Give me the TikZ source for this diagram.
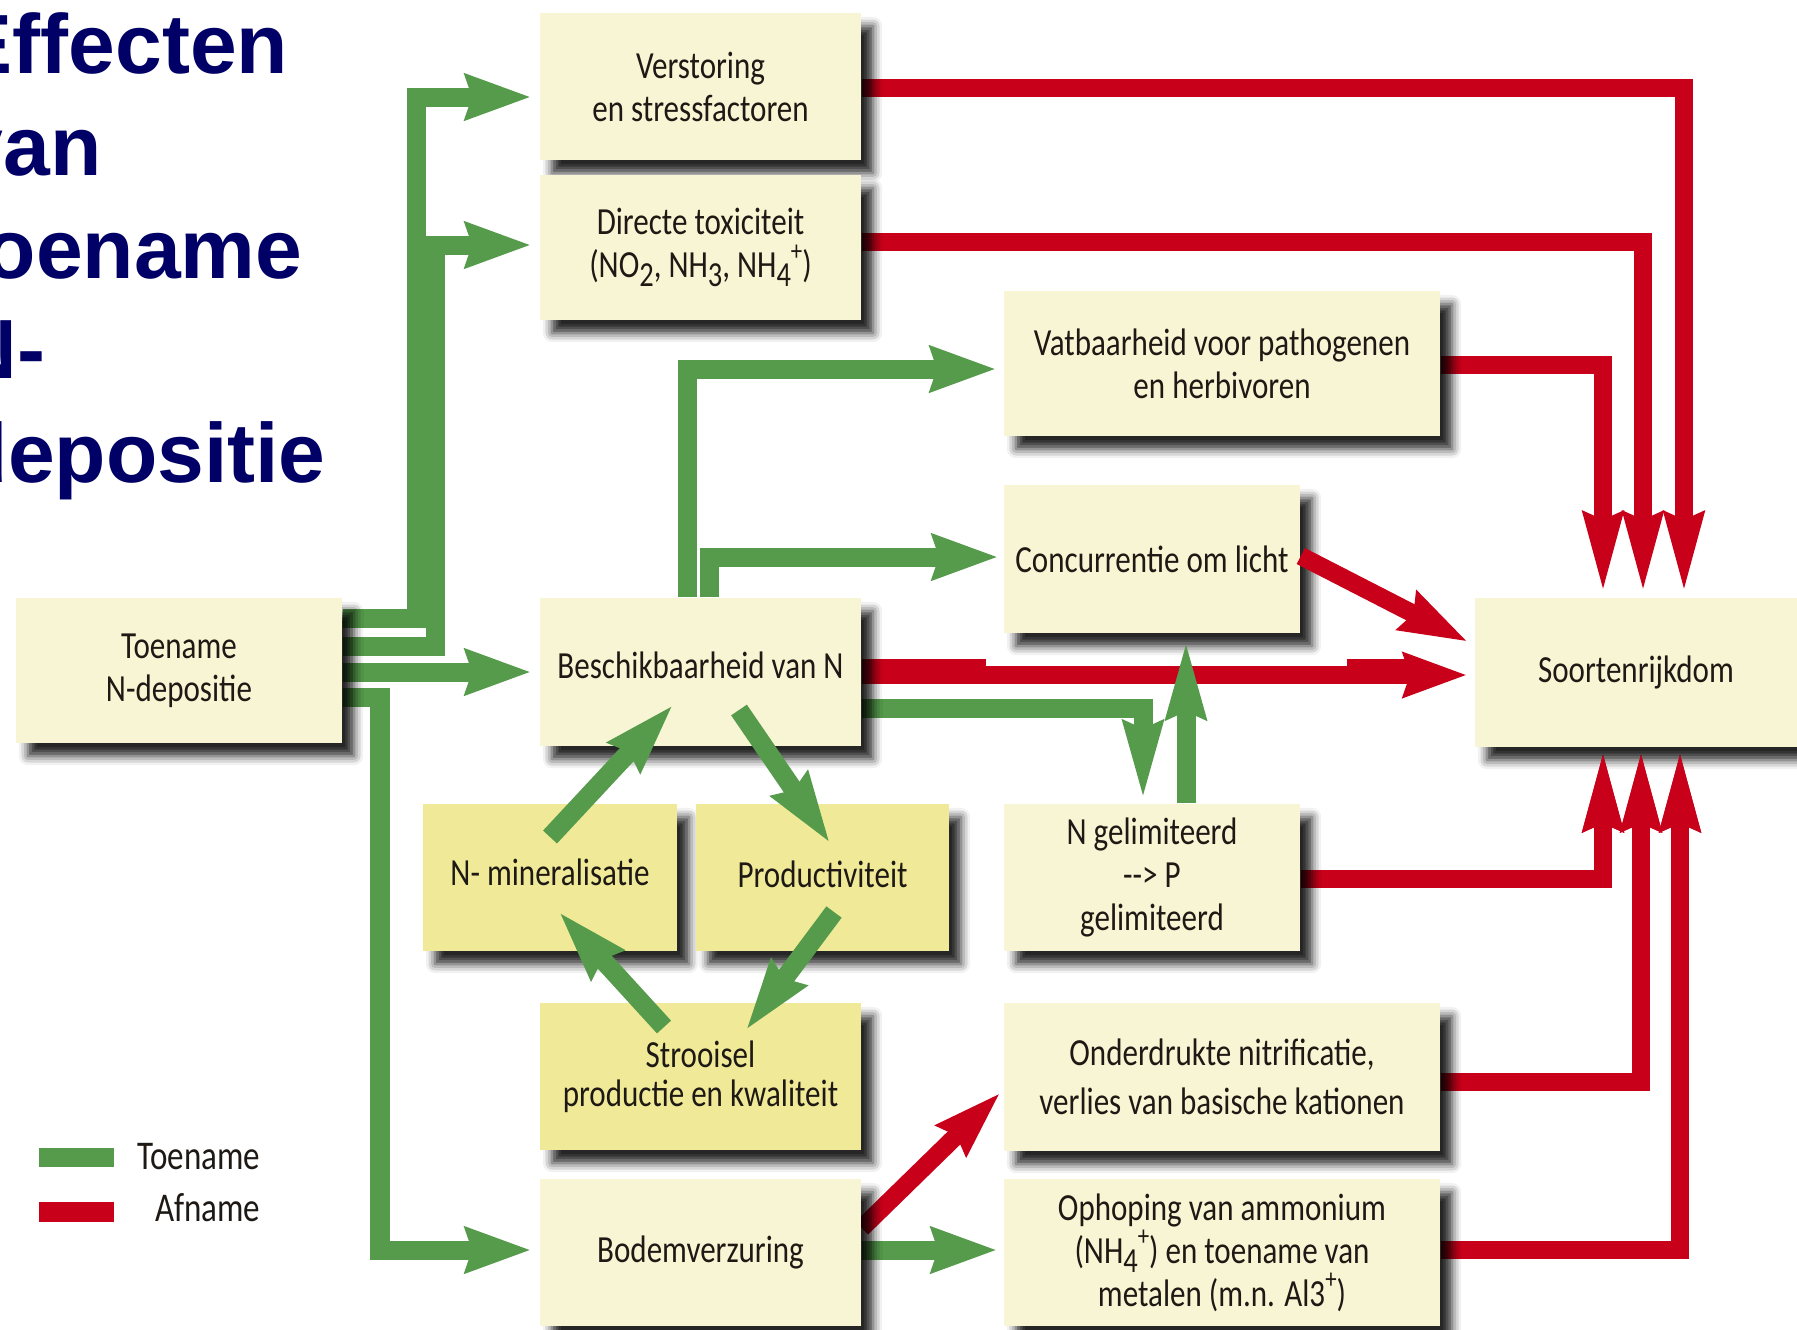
\documentclass[tikz,border=0pt]{standalone}
\usepackage{fontspec}
\newfontfamily\boxfont{Carlito}[FakeStretch=0.81]
\newfontfamily\titlefont{Liberation Sans}
\usetikzlibrary{arrows.meta,calc,shadows.blur}
\definecolor{cream}{RGB}{248,245,212}
\definecolor{ylw}{RGB}{240,234,152}
\definecolor{grn}{RGB}{85,155,75}
\definecolor{rd}{RGB}{200,0,26}
\definecolor{navy}{RGB}{0,0,102}
\definecolor{txt}{RGB}{30,25,20}
\newcommand\sbx[1]{\raisebox{-0.5ex}{\fontsize{10}{10}\selectfont #1}}
\newcommand\spx[1]{\raisebox{0.95ex}{\fontsize{8}{8}\selectfont #1}}
\pgfdeclarelayer{bg}
\pgfdeclarelayer{lines}
\pgfdeclarelayer{fg}
\pgfsetlayers{bg,lines,main,fg}
\begin{document}
\begin{tikzpicture}[x=0.01cm,y=-0.01cm,
  shd/.style={blur shadow={shadow xshift=0.12cm, shadow yshift=-0.13cm, shadow blur radius=0.09cm, shadow opacity=85}},
  box/.style={rectangle, fill=cream, inner sep=0pt, align=center, text=txt,
    font=\boxfont\fontsize{10.9}{12.2}\selectfont, shd},
  ybox/.style={box, fill=ylw},
  ttl/.style={anchor=base west, inner sep=0pt, text=navy, font=\titlefont\bfseries\fontsize{23.9}{29}\selectfont},
  lgd/.style={anchor=east, inner sep=0pt, text=txt, font=\boxfont\fontsize{11.6}{13}\selectfont},
  gl/.style={draw=grn, line width=0.19cm},
  rl/.style={draw=rd, line width=0.18cm},
  gH/.style={-{Stealth[length=0.65cm,width=0.44cm,inset=0.06cm]}},
  gV/.style={-{Stealth[length=0.78cm,width=0.36cm,inset=0.05cm]}},
  gC/.style={-{Stealth[length=0.7cm,width=0.42cm,inset=0.06cm]}},
  rV/.style={-{Stealth[length=0.8cm,width=0.36cm,inset=0.05cm]}},
  rH/.style={-{Stealth[length=0.63cm,width=0.43cm,inset=0.06cm]}},
  rD/.style={-{Stealth[length=0.67cm,width=0.41cm,inset=0.06cm]}},
]
\useasboundingbox (0,0) rectangle (1797,1329);
\begin{pgfonlayer}{bg}
\fill[white] (0,0) rectangle (1797,1329);
\end{pgfonlayer}
% primes the shadow fading, lies outside the page
\path[shd, fill=white] (-600,-600) rectangle (-500,-500);

% title (clipped at the left edge)
\node[ttl] (t1) at (-44,73) {Effecten};
\node[ttl] (t2) at (-44,175) {van};
\node[ttl] (t3) at (-44,278) {toename};
\node[ttl] (t4) at (-44,378) {N-};
\node[ttl] (t5) at (-44,482) {depositie};

% boxes
\node[box, minimum width=2.96cm, minimum height=1.48cm] (conc) at (1152,559) {Concurrentie om licht};
\node[box, minimum width=3.22cm, minimum height=1.49cm] (soort) at (1636,672.5) {Soortenrijkdom};
\node[box, minimum width=3.21cm, minimum height=1.47cm] (vers) at (700.5,86.5) {Verstoring\\en stressfactoren};
\node[box, minimum width=3.21cm, minimum height=1.45cm] (dir) at (700.5,247.5) {Directe toxiciteit\\(NO\sbx{2}, NH\sbx{3}, NH\sbx{4}\spx{+})};
\node[box, minimum width=4.36cm, minimum height=1.45cm] (vat) at (1222,363.5) {Vatbaarheid voor pathogenen\\en herbivoren};
\node[box, minimum width=3.26cm, minimum height=1.45cm] (toe) at (179,670.5) {Toename\\N-depositie};
\node[box, minimum width=3.21cm, minimum height=1.48cm] (besch) at (700.5,672) {\raisebox{0.14cm}{Beschikbaarheid van N}};
\node[ybox, minimum width=2.54cm, minimum height=1.47cm] (nmin) at (550,877.5) {\raisebox{0.1cm}{N- mineralisatie}};
\node[ybox, minimum width=2.53cm, minimum height=1.47cm] (prod) at (822.5,877.5) {\raisebox{0.06cm}{Productiviteit}};
\node[box, minimum width=2.96cm, minimum height=1.47cm] (ngel) at (1152,877.5) {N gelimiteerd\\-{}-> P\\gelimiteerd};
\node[ybox, minimum width=3.21cm, minimum height=1.47cm] (stro) at (700.5,1076.5) {Strooisel\\[-0.04cm]productie en kwaliteit};
\node[box, minimum width=4.36cm, minimum height=1.48cm] (ond) at (1222,1077) {\raisebox{0.06cm}{Onderdrukte nitrificatie,}\\verlies van basische kationen};
\node[box, minimum width=3.21cm, minimum height=1.47cm] (bod) at (700.5,1252.5) {Bodemverzuring};
\node[box, minimum width=4.36cm, minimum height=1.47cm] (oph) at (1222,1252.5) {Ophoping van ammonium\\(NH\sbx{4}\spx{+}) en toename van\\metalen (m.n. Al3\spx{+})};

\begin{pgfonlayer}{lines}
% green connectors from Toename N-depositie
\draw[gl, gH, shorten >=0.08cm] (toe.east |- 0,618) -| (416,97) -- (vers.west |- 0,97);
\draw[gl, gH, shorten >=0.08cm] (toe.east |- 0,646) -| (435,245) -- (dir.west |- 0,245);
\draw[gl, gH, shorten >=0.08cm] (toe.east |- 0,672) -- (besch.west |- 0,672);
\draw[gl, gH, shorten >=0.08cm] (toe.east |- 0,697) -| (380,1250) -- (bod.west |- 0,1250);

% green from Beschikbaarheid
\draw[gl, gH, shorten >=0.07cm] (besch.north -| 687,0) |- (vat.west |- 0,369);
\draw[gl, gH, shorten >=0.05cm] (besch.north -| 709,0) |- (conc.west |- 0,557);

% red connectors to Soortenrijkdom
\draw[rl, rV, shorten >=0.02cm] (vers.east |- 0,88) -| (soort.north -| 1684,0);
\draw[rl, rV, shorten >=0.02cm] (dir.east |- 0,242) -| (soort.north -| 1643,0);
\draw[rl, rV, shorten >=0.02cm] (vat.east |- 0,365) -| (soort.north -| 1603,0);
\draw[rl, line width=0.25cm] (besch.east |- 0,671) -- (986,671);
\draw[rl, line width=0.25cm] (1347,671) -- (1410,671);
\draw[rl, rH, shorten >=0.07cm] (besch.east |- 0,675) -- (soort.west |- 0,675);
\draw[rl, rV] (ngel.east |- 0,879) -| (soort.south -| 1603,0);
\draw[rl, rV] (ond.east |- 0,1082) -| (soort.south -| 1641,0);
\draw[rl, rV] (oph.east |- 0,1250) -| (soort.south -| 1680,0);
\draw[rl, rD, shorten >=0.04cm] (bod.east |- 0,1228) -- (ond.west |- 0,1090);

% green: N availability -> N limited, soil acidification -> ammonium
\draw[gl, gV, shorten >=0.01cm] (besch.east |- 0,708) -| (ngel.north -| 1143,0);
\draw[gl, gH, shorten >=0.06cm] (bod.east |- 0,1250) -- (oph.west |- 0,1250);
\end{pgfonlayer}

\begin{pgfonlayer}{fg}
% arrow ends that lie over the shadows of their target boxes
\draw[rl, rD, shorten >=0.07cm] (conc.east |- 0,556) -- (soort.west |- 0,645);
\draw[gl, gV, shorten >=0.04cm] (ngel.north -| 1186,0) -- (conc.south -| 1186,0);
\draw[rl, rV] (1603,850) -- (soort.south -| 1603,0);
\draw[rl, rV] (1641,850) -- (soort.south -| 1641,0);
\draw[rl, rV] (1680,850) -- (soort.south -| 1680,0);
% cycle arrows
\coordinate (c1a) at (550,837);  \coordinate (c1b) at (673,705);
\coordinate (c2a) at (739,710);  \coordinate (c2b) at (830,843);
\coordinate (c3a) at (834,912);  \coordinate (c3b) at (746,1030);
\coordinate (c4a) at (664,1027); \coordinate (c4b) at (559,912);
\draw[gl, gC] (c1a) -- (c1b);
\draw[gl, gC] (c2a) -- (c2b);
\draw[gl, gC] (c3a) -- (c3b);
\draw[gl, gC] (c4a) -- (c4b);
\end{pgfonlayer}

% legend
\fill[grn] (39,1148) rectangle (114,1167);
\fill[rd] (39,1202) rectangle (114,1222);
\node[lgd] (lg1) at (261,1157) {Toename};
\node[lgd] (lg2) at (261,1208) {Afname};
\end{tikzpicture}
\end{document}
